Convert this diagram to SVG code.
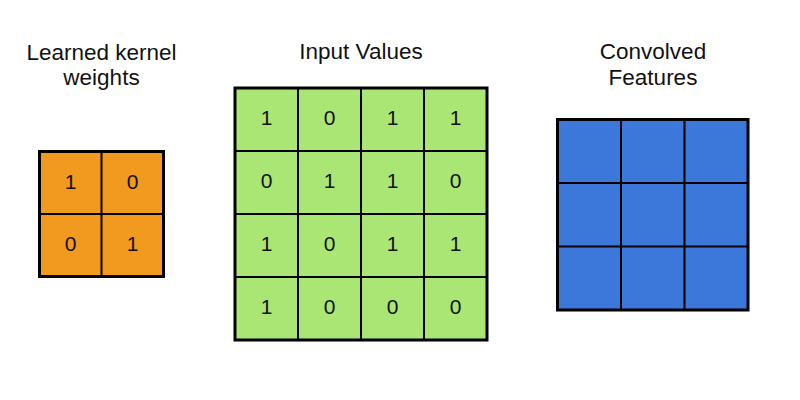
<svg xmlns="http://www.w3.org/2000/svg" width="800" height="400" viewBox="0 0 800 400">
<style>
.t{font-family:"Liberation Sans",Arial,sans-serif;font-size:22.5px;fill:#111;text-anchor:middle}
.n{font-family:"Liberation Sans",Arial,sans-serif;font-size:21px;fill:#111;text-anchor:middle}
.o{stroke:#000;stroke-width:3}
.i{stroke:#000;stroke-width:2;fill:none}
</style>
<rect width="800" height="400" fill="#fff"/>
<g id="kernel">
<text class="t" x="101.5" y="60">Learned kernel</text>
<text class="t" x="101.5" y="85">weights</text>
<rect class="o" x="39.5" y="151.5" width="124" height="125" fill="#F2991F"/>
<path class="i" d="M101.5 151.5V276.5M39.5 214H163.5"/>
<text class="n" x="70.5" y="189">1</text>
<text class="n" x="132.5" y="189">0</text>
<text class="n" x="70.5" y="251">0</text>
<text class="n" x="132.5" y="251">1</text>
</g>
<g id="input">
<text class="t" x="361" y="59">Input Values</text>
<rect class="o" x="235" y="88" width="252" height="252" fill="#A9E673"/>
<path class="i" d="M298 88V340M361 88V340M424 88V340M235 151H487M235 214H487M235 277H487"/>
<g>
<text class="n" x="266.5" y="125">1</text><text class="n" x="329.5" y="125">0</text><text class="n" x="392.5" y="125">1</text><text class="n" x="455.5" y="125">1</text>
<text class="n" x="266.5" y="188">0</text><text class="n" x="329.5" y="188">1</text><text class="n" x="392.5" y="188">1</text><text class="n" x="455.5" y="188">0</text>
<text class="n" x="266.5" y="251">1</text><text class="n" x="329.5" y="251">0</text><text class="n" x="392.5" y="251">1</text><text class="n" x="455.5" y="251">1</text>
<text class="n" x="266.5" y="314">1</text><text class="n" x="329.5" y="314">0</text><text class="n" x="392.5" y="314">0</text><text class="n" x="455.5" y="314">0</text>
</g>
</g>
<g id="convolved">
<text class="t" x="653" y="59">Convolved</text>
<text class="t" x="653" y="85">Features</text>
<rect class="o" x="557.5" y="119.5" width="190.5" height="190.5" fill="#3B78DA"/>
<path class="i" d="M621 119.5V310M684.5 119.5V310M557.5 183H748M557.5 246.5H748"/>
</g>
<g id="connectors"/>
</svg>
